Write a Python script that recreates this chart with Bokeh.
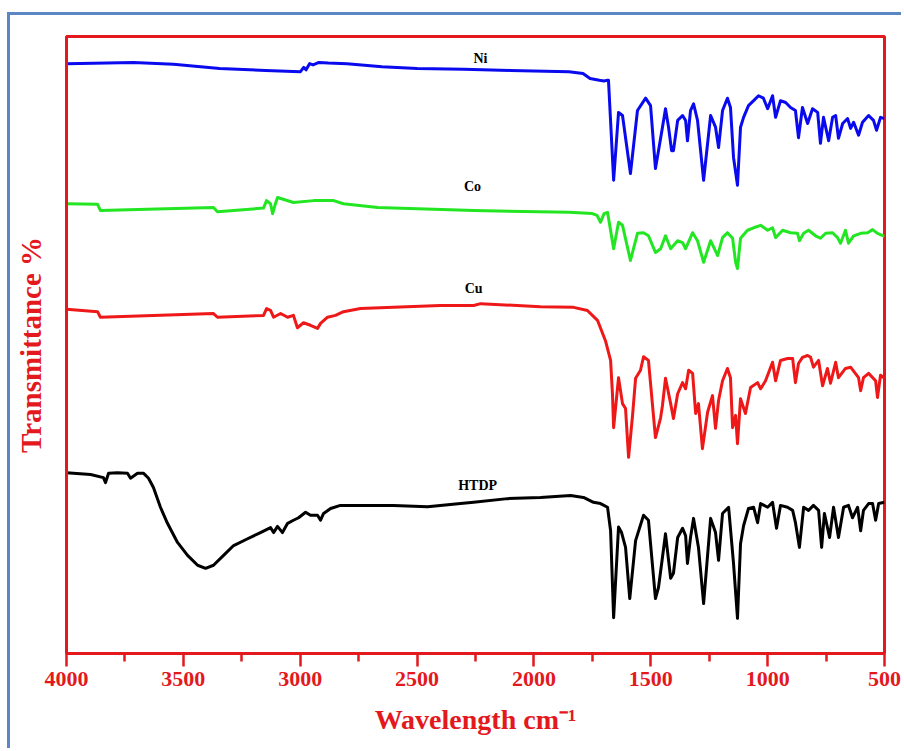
from bokeh.plotting import figure
from bokeh.models import Range1d, FixedTicker
from bokeh.core.properties import value
from bokeh.embed import file_html
from bokeh.resources import INLINE

# FT-IR spectra (stacked, arbitrary transmittance offsets)
ni_wn = [4000, 3713, 3542, 3345, 3148, 2999, 2985, 2975, 2960, 2945, 2920, 2880, 2800, 2650, 2500,
         2300, 2100, 1850, 1790, 1760, 1720, 1700, 1685, 1681, 1659, 1638, 1621, 1587, 1557, 1522,
         1501, 1480, 1467, 1450, 1437, 1424, 1411, 1403, 1385, 1364, 1351, 1343, 1330, 1317, 1300,
         1274, 1244, 1223, 1210, 1193, 1172, 1159, 1146, 1129, 1116, 1103, 1082, 1060, 1039, 1018,
         1000, 979, 966, 945, 923, 902, 881, 868, 851, 829, 808, 786, 774, 761, 739, 722, 709, 697,
         679, 658, 645, 632, 611, 594, 568, 547, 534, 517, 500]
ni_t = [95.6, 95.8, 95.5, 94.8, 94.5, 94.3, 95.0, 94.6, 95.6, 95.4, 95.8, 95.7, 95.6, 95.1, 94.8,
        94.7, 94.5, 94.3, 94.0, 93.2, 92.9, 92.8, 92.9, 92.9, 76.7, 87.7, 87.2, 77.8, 88.0, 90.0,
        88.8, 78.6, 81.5, 85.3, 88.3, 85.3, 81.5, 81.5, 86.4, 87.2, 86.4, 83.1, 88.0, 89.1, 86.4,
        76.7, 87.2, 85.3, 82.0, 88.0, 90.0, 88.5, 80.4, 75.9, 85.3, 86.9, 88.8, 89.6, 90.4, 90.0,
        88.3, 90.4, 86.9, 89.6, 89.3, 88.5, 88.0, 83.6, 88.5, 85.9, 88.3, 87.7, 82.7, 86.9, 83.1,
        86.9, 87.2, 83.5, 85.9, 86.7, 85.1, 86.1, 84.0, 86.1, 87.2, 86.4, 84.8, 86.9, 86.7]

co_wn = [4000, 3867, 3855, 3371, 3354, 3157, 3144, 3127, 3118, 3106, 3097, 3029, 2943, 2857, 2815,
         2669, 2258, 1850, 1750, 1730, 1715, 1700, 1685, 1659, 1638, 1621, 1587, 1557, 1531, 1510,
         1480, 1458, 1437, 1415, 1385, 1364, 1351, 1321, 1300, 1274, 1244, 1214, 1193, 1172, 1150,
         1137, 1129, 1116, 1086, 1060, 1030, 1000, 979, 966, 936, 902, 872, 864, 846, 825, 795, 774,
         752, 722, 701, 688, 667, 654, 632, 602, 572, 551, 530, 500]
co_t = [72.9, 72.8, 71.8, 72.3, 71.6, 72.2, 73.4, 72.9, 71.3, 72.9, 73.9, 73.1, 73.4, 73.4, 72.9,
        72.3, 71.8, 71.5, 71.3, 71.0, 69.9, 71.3, 71.5, 65.6, 69.9, 69.4, 63.7, 68.1, 68.2, 67.7,
        65.0, 65.6, 67.7, 65.6, 66.9, 66.6, 65.6, 68.2, 66.9, 63.4, 66.9, 64.5, 67.4, 68.2, 67.3,
        63.4, 62.4, 67.3, 68.6, 69.0, 69.4, 68.6, 69.0, 67.4, 68.6, 68.2, 68.1, 66.9, 68.1, 68.6,
        67.7, 67.3, 68.1, 68.2, 67.4, 66.5, 68.6, 66.5, 67.7, 68.1, 68.2, 68.7, 68.1, 67.6]

cu_wn = [4000, 3867, 3855, 3371, 3354, 3157, 3144, 3127, 3114, 3084, 3054, 3029, 3012, 2986, 2956,
         2926, 2913, 2883, 2849, 2815, 2742, 2601, 2400, 2258, 2228, 1972, 1830, 1771, 1728, 1694,
         1672, 1664, 1659, 1638, 1621, 1608, 1595, 1578, 1565, 1544, 1531, 1510, 1480, 1458, 1450,
         1437, 1415, 1403, 1385, 1364, 1351, 1338, 1321, 1308, 1296, 1279, 1257, 1236, 1223, 1210,
         1193, 1172, 1159, 1150, 1137, 1129, 1116, 1095, 1073, 1043, 1030, 1009, 979, 966, 945, 915,
         893, 881, 868, 851, 829, 816, 804, 782, 765, 744, 731, 709, 697, 667, 645, 611, 602, 590,
         568, 538, 530, 517, 500]
cu_t = [55.8, 55.4, 54.5, 55.1, 54.5, 54.8, 55.9, 55.6, 54.5, 55.1, 54.5, 54.8, 52.8, 53.6, 53.2,
        52.7, 53.5, 54.5, 54.8, 55.4, 55.9, 56.1, 56.4, 56.4, 56.7, 56.2, 56.1, 55.6, 54.0, 50.7,
        47.5, 42.1, 36.6, 44.7, 40.5, 39.7, 31.8, 38.6, 44.6, 45.9, 48.1, 47.5, 35.0, 38.2, 40.2,
        44.6, 40.5, 38.1, 42.1, 43.9, 42.9, 45.9, 45.4, 38.9, 40.5, 33.2, 39.1, 41.8, 36.5, 41.0,
        44.2, 46.2, 44.7, 36.6, 38.6, 34.0, 41.3, 38.9, 43.1, 43.9, 42.9, 44.2, 47.2, 44.2, 47.5, 47.8,
        47.8, 43.9, 47.0, 48.0, 48.3, 48.0, 46.4, 47.5, 43.4, 46.2, 43.8, 47.2, 44.7, 46.2, 46.4, 44.7,
        42.6, 44.7, 45.4, 44.2, 41.5, 45.1, 44.6]

htdp_wn = [4000, 3897, 3842, 3833, 3820, 3782, 3739, 3726, 3696, 3670, 3649, 3628, 3598, 3568, 3525,
           3482, 3439, 3405, 3371, 3328, 3285, 3225, 3170, 3127, 3114, 3097, 3076, 3054, 3029, 3007,
           2977, 2956, 2926, 2913, 2900, 2870, 2828, 2742, 2601, 2455, 2314, 2258, 2113, 1972, 1843,
           1788, 1745, 1715, 1685, 1672, 1659, 1638, 1625, 1608, 1590, 1565, 1531, 1510, 1480, 1467,
           1450, 1437, 1415, 1403, 1385, 1364, 1351, 1343, 1330, 1317, 1296, 1274, 1244, 1223, 1210,
           1193, 1167, 1146, 1129, 1116, 1103, 1082, 1060, 1043, 1030, 1000, 979, 962, 945, 915, 893,
           881, 864, 846, 825, 804, 782, 769, 757, 735, 718, 697, 675, 654, 637, 615, 602, 590, 568,
           551, 538, 525, 500]
htdp_t = [29.3, 29.0, 28.5, 27.7, 29.2, 29.3, 29.2, 28.4, 29.2, 29.2, 28.4, 26.9, 23.7, 21.1, 18.0,
          15.9, 14.3, 13.8, 14.3, 15.9, 17.5, 18.6, 19.6, 20.4, 19.6, 20.6, 19.6, 21.1, 21.6, 22.0,
          22.9, 22.4, 22.4, 21.6, 22.7, 23.5, 24.0, 24.0, 24.0, 23.8, 24.3, 24.5, 25.1, 25.3, 25.6,
          25.3, 24.5, 24.3, 23.7, 19.9, 5.8, 20.5, 19.6, 17.2, 8.9, 18.3, 22.4, 21.6, 8.9, 10.7,
          15.6, 19.4, 12.2, 13.0, 18.8, 20.3, 19.1, 14.6, 18.8, 21.9, 17.2, 8.1, 21.9, 19.6, 15.1,
          22.7, 23.7, 14.6, 5.7, 17.8, 20.7, 23.5, 23.7, 21.2, 24.3, 23.7, 24.5, 20.3, 24.0, 23.7, 23.2,
          21.2, 17.2, 23.7, 23.2, 24.0, 23.2, 17.2, 22.7, 18.8, 23.7, 18.8, 23.7, 24.0, 22.0, 23.7, 19.9,
          23.2, 24.3, 24.3, 21.6, 24.3, 24.5]

sample_names = ["Ni", "Co", "Cu", "HTDP"]
label_wn = [2229, 2263, 2258, 2241]
label_t = [96.4, 75.7, 59.2, 27.2]
tick_values = [4000, 3500, 3000, 2500, 2000, 1500, 1000, 500]
minor_values = [3750, 3250, 2750, 2250, 1750, 1250, 750]

RED = "#e3191e"
SERIF = "Liberation Serif"

p = figure(width=894, height=736, output_backend="svg", toolbar_location=None,
           x_range=Range1d(4000, 500), y_range=Range1d(0, 100))
p.styles = {"margin-left": "7px", "margin-top": "12px",
            "border-left": "3px solid #5b87c5", "border-top": "3px solid #5b87c5"}
p.min_border_left = 56
p.min_border_top = 21
p.min_border_right = 20
p.min_border_bottom = 98

p.xgrid.visible = False
p.ygrid.visible = False
p.outline_line_color = RED
p.outline_line_width = 3
p.background_fill_color = "white"
p.border_fill_color = "white"

for wn, t, color in [(ni_wn, ni_t, "#0a0aee"), (co_wn, co_t, "#22e622"),
                     (cu_wn, cu_t, "#ee1818"), (htdp_wn, htdp_t, "#000000")]:
    p.line(wn, t, line_color=color, line_width=3, line_join="round")

p.text(x=label_wn, y=label_t, text=sample_names, text_font=value(SERIF),
       text_font_style="bold", text_font_size="14px", text_color="black",
       text_align="center", text_baseline="middle")

xa = p.xaxis[0]
xa.ticker = FixedTicker(ticks=tick_values, minor_ticks=minor_values)
xa.axis_line_color = RED
xa.axis_line_width = 3
xa.major_tick_line_color = RED
xa.major_tick_line_width = 2.5
xa.major_tick_out = 13
xa.major_tick_in = 0
xa.minor_tick_line_color = RED
xa.minor_tick_line_width = 2.5
xa.minor_tick_out = 8
xa.minor_tick_in = 0
xa.major_label_text_font = SERIF
xa.major_label_text_font_style = "bold"
xa.major_label_text_font_size = "22px"
xa.major_label_text_color = RED
xa.major_label_standoff = 5
xa.axis_label = "Wavelength cm\u207b\u00b9"
xa.axis_label_text_font = SERIF
xa.axis_label_text_font_style = "bold"
xa.axis_label_text_font_size = "28px"
xa.axis_label_text_color = RED
xa.axis_label_standoff = 15

ya = p.yaxis[0]
ya.ticker = FixedTicker(ticks=[])
ya.axis_line_color = RED
ya.axis_line_width = 3
ya.major_tick_line_color = None
ya.minor_tick_line_color = None
ya.major_label_text_font_size = "0px"
ya.axis_label = "Transmittance %"
ya.axis_label_text_font = SERIF
ya.axis_label_text_font_style = "bold"
ya.axis_label_text_font_size = "29px"
ya.axis_label_text_color = RED
ya.axis_label_standoff = 20

open("out.html", "w").write(file_html(p, INLINE))
